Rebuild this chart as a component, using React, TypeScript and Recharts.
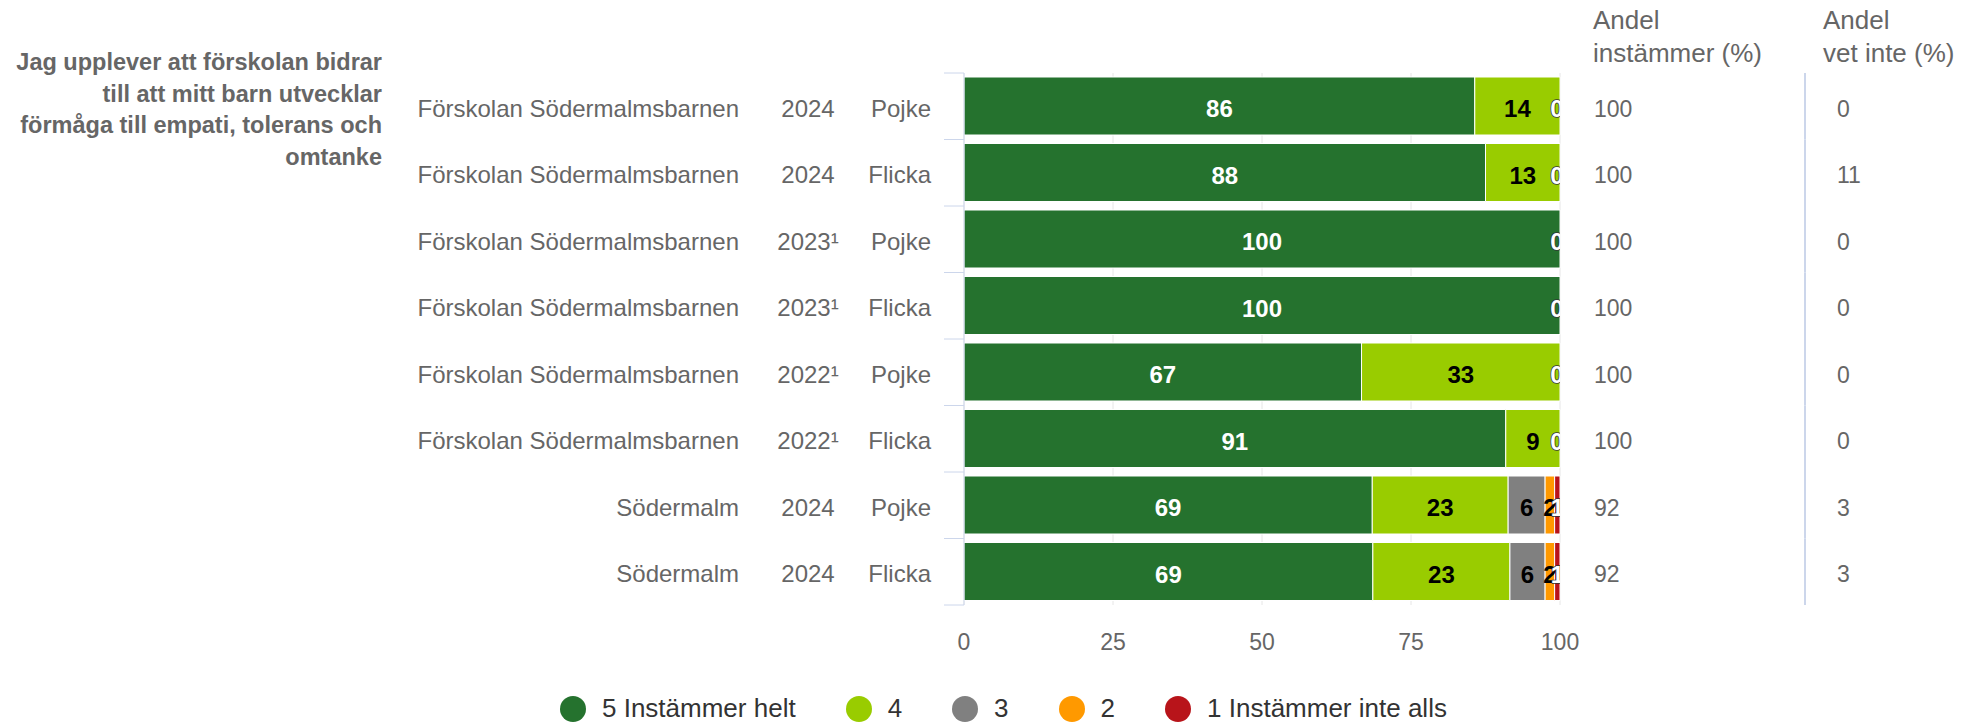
import React from "react";
import { BarChart, Bar, XAxis, YAxis, CartesianGrid, LabelList } from "recharts";

const schools = [
  "Förskolan Södermalmsbarnen",
  "Förskolan Södermalmsbarnen",
  "Förskolan Södermalmsbarnen",
  "Förskolan Södermalmsbarnen",
  "Förskolan Södermalmsbarnen",
  "Förskolan Södermalmsbarnen",
  "Södermalm",
  "Södermalm",
];
const years = ["2024", "2024", "2023¹", "2023¹", "2022¹", "2022¹", "2024", "2024"];
const genders = ["Pojke", "Flicka", "Pojke", "Flicka", "Pojke", "Flicka", "Pojke", "Flicka"];

// share of answers per step (%)
const instammerHelt = [85.7, 87.5, 100, 100, 66.7, 90.9, 68.5, 68.6];
const fyra = [14.3, 12.5, 0, 0, 33.3, 9.1, 22.8, 23.0];
const tre = [0, 0, 0, 0, 0, 0, 6.2, 5.9];
const tva = [0, 0, 0, 0, 0, 0, 1.6, 1.6];
const instammerInteAlls = [0, 0, 0, 0, 0, 0, 0.9, 0.9];

const andelInstammer = [100, 100, 100, 100, 100, 100, 92, 92];
const andelVetInte = [0, 11, 0, 0, 0, 0, 3, 3];

const xTicks = [0, 25, 50, 75, 100];

const series = [
  { key: "helt", name: "5 Instämmer helt", color: "#25722e", label: "#ffffff", outline: false },
  { key: "fyra", name: "4", color: "#99cc00", label: "#000000", outline: false },
  { key: "tre", name: "3", color: "#808080", label: "#000000", outline: false },
  { key: "tva", name: "2", color: "#ff9900", label: "#000000", outline: false },
  { key: "inte", name: "1 Instämmer inte alls", color: "#b8141a", label: "#ffffff", outline: true },
];

const data = schools.map((s, i) => ({
  row: `${s} ${years[i]} ${genders[i]}`,
  helt: instammerHelt[i],
  fyra: fyra[i],
  tre: tre[i],
  tva: tva[i],
  inte: instammerInteAlls[i],
}));

const W = 1968;
const H = 727;
const LEFT_W = 964;
const RIGHT_W = 408;
const TOP = 73;
const PLOT_BOTTOM = 605;
const PLOT_RIGHT = W - RIGHT_W;
const BAND = (PLOT_BOTTOM - TOP) / data.length;
const FONT = "'Liberation Sans', Arial, sans-serif";
const GREY = "#666666";

function LeftTick(props: any) {
  const { y, index } = props;
  const last = index === data.length - 1;
  return (
    <g>
      <text x={739} y={y + 10.5} textAnchor="end" fill={GREY} fontSize={24} fontFamily={FONT}>
        {schools[index]}
      </text>
      <text x={808} y={y + 10.5} textAnchor="middle" fill={GREY} fontSize={24} fontFamily={FONT}>
        {years[index]}
      </text>
      <text x={931} y={y + 10.5} textAnchor="end" fill={GREY} fontSize={24} fontFamily={FONT}>
        {genders[index]}
      </text>
      <line x1={944} x2={LEFT_W} y1={y - BAND / 2} y2={y - BAND / 2} stroke="#ccd6eb" />
      {last && <line x1={944} x2={LEFT_W} y1={y + BAND / 2} y2={y + BAND / 2} stroke="#ccd6eb" />}
    </g>
  );
}

function RightTick(props: any) {
  const { y, index } = props;
  return (
    <g>
      <text x={1594} y={y + 10.5} fill={GREY} fontSize={23} fontFamily={FONT}>
        {andelInstammer[index]}
      </text>
      <text x={1837} y={y + 10.5} fill={GREY} fontSize={23} fontFamily={FONT}>
        {andelVetInte[index]}
      </text>
      <line x1={1805} x2={1805} y1={y - BAND / 2} y2={y + BAND / 2} stroke="#ccd6eb" strokeWidth={2} />
    </g>
  );
}

function XTick(props: any) {
  const { x, payload } = props;
  return (
    <text x={x} y={PLOT_BOTTOM + 45} textAnchor="middle" fill={GREY} fontSize={23} fontFamily={FONT}>
      {payload.value}
    </text>
  );
}

function BarText(p: { id: string; x: number; y: number; value: number; color: string; outline: boolean }) {
  return (
    <g>
      <clipPath id={p.id}>
        <rect x={0} y={0} width={PLOT_RIGHT} height={H} />
      </clipPath>
      <text
        x={p.x}
        y={p.y}
        textAnchor="middle"
        fill={p.color}
        fontSize={24}
        fontWeight="bold"
        fontFamily={FONT}
        clipPath={`url(#${p.id})`}
        stroke={p.outline ? "#333333" : "none"}
        strokeWidth={p.outline ? 1.5 : 0}
        paintOrder="stroke"
      >
        {Math.round(p.value)}
      </text>
    </g>
  );
}

const makeLabel = (color: string, outline: boolean, key: string) => (props: any) => {
  const vb = props.viewBox ?? props;
  const x = Number(vb.x ?? props.x);
  const y = Number(vb.y ?? props.y);
  const w = Number(vb.width ?? props.width ?? 0);
  const h = Number(vb.height ?? props.height ?? 0);
  const v = Number(props.value);
  const idx = props.index;
  const cy = y + h / 2 + 11;
  return (
    <g>
      {v > 0 && (
        <BarText id={`clip-${key}-${idx}`} x={x + w / 2} y={cy} value={v} color={color} outline={outline} />
      )}
      {/* zero share for "1 Instämmer inte alls" still gets its label at the end of the stack */}
      {key === "helt" && instammerInteAlls[idx] === 0 && (
        <BarText id={`clip-end-${idx}`} x={PLOT_RIGHT - 3} y={cy} value={0} color="#ffffff" outline={true} />
      )}
    </g>
  );
};

export default function App() {
  return (
    <div style={{ position: "absolute", left: 0, top: 0, width: W, height: H, fontFamily: FONT, background: "#fff" }}>
      <div
        style={{
          position: "absolute",
          left: 0,
          top: 47,
          width: 382,
          textAlign: "right",
          fontWeight: "bold",
          fontSize: 23.5,
          lineHeight: "31.5px",
          color: GREY,
        }}
      >
        Jag upplever att förskolan bidrar
        <br />
        till att mitt barn utvecklar
        <br />
        förmåga till empati, tolerans och
        <br />
        omtanke
      </div>
      <div style={{ position: "absolute", left: 1593, top: 4, fontSize: 26, lineHeight: "33px", color: GREY }}>
        Andel
        <br />
        instämmer (%)
      </div>
      <div style={{ position: "absolute", left: 1823, top: 4, fontSize: 26, lineHeight: "33px", color: GREY }}>
        Andel
        <br />
        vet inte (%)
      </div>
      <BarChart
        width={W}
        height={H}
        data={data}
        layout="vertical"
        margin={{ top: TOP, right: 0, bottom: H - PLOT_BOTTOM - 40, left: 0 }}
        barSize={58}
      >
        <CartesianGrid yAxisId="left" horizontal={false} stroke="#e6e6e6" />
        <XAxis
          type="number"
          domain={[0, 100]}
          ticks={xTicks}
          axisLine={false}
          tickLine={false}
          height={40}
          tick={XTick}
          interval={0}
        />
        <YAxis
          yAxisId="left"
          type="category"
          dataKey="row"
          width={LEFT_W}
          axisLine={{ stroke: "#ccd6eb" }}
          tickLine={false}
          tick={LeftTick}
          interval={0}
        />
        <YAxis
          yAxisId="right"
          orientation="right"
          type="category"
          dataKey="row"
          width={RIGHT_W}
          axisLine={false}
          tickLine={false}
          tick={RightTick}
          interval={0}
        />
        {series.map((s) => (
          <Bar
            key={s.key}
            dataKey={s.key}
            name={s.name}
            stackId="a"
            yAxisId="left"
            fill={s.color}
            stroke="#ffffff"
            strokeWidth={1}
            isAnimationActive={false}
          >
            <LabelList dataKey={s.key} content={makeLabel(s.label, s.outline, s.key)} />
          </Bar>
        ))}
      </BarChart>
      <div
        style={{
          position: "absolute",
          left: 560,
          top: 695,
          height: 27,
          display: "flex",
          alignItems: "center",
          gap: 50,
          fontSize: 26,
          color: "#333333",
          whiteSpace: "nowrap",
        }}
      >
        {series.map((s) => (
          <div key={s.key} style={{ display: "flex", alignItems: "center", gap: 16 }}>
            <span style={{ width: 26, height: 26, borderRadius: 13, background: s.color, display: "inline-block" }} />
            <span>{s.name}</span>
          </div>
        ))}
      </div>
    </div>
  );
}
